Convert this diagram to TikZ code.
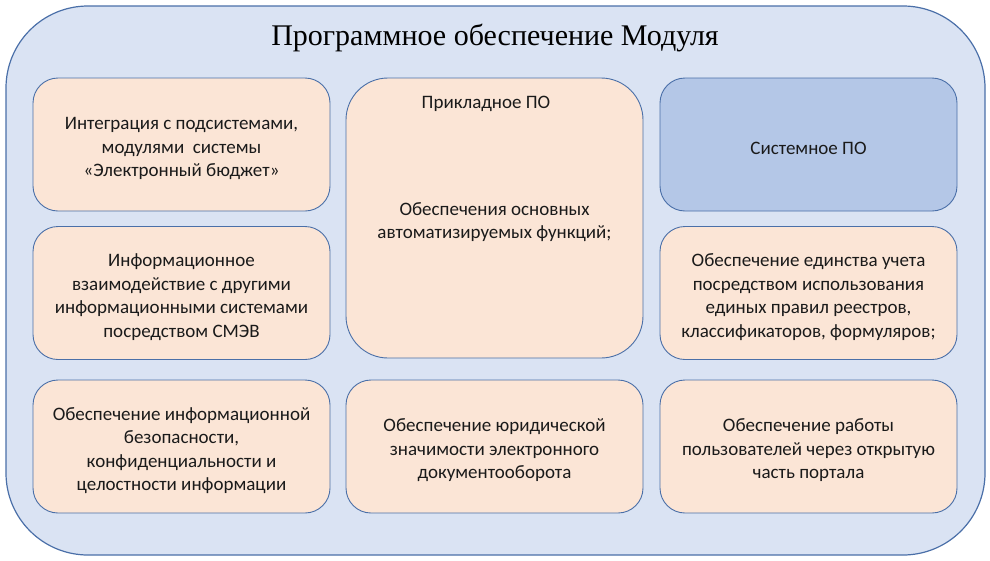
\documentclass[tikz,border=0pt]{standalone}
\usepackage{fontspec}
\setmainfont{Carlito}
\newfontfamily\titlefont{Liberation Serif}
\usetikzlibrary{positioning}

\definecolor{outerfill}{HTML}{DAE3F3}
\definecolor{edgeblue}{HTML}{4A6FA8}
\definecolor{peach}{HTML}{FBE5D6}
\definecolor{sysblue}{HTML}{B4C7E7}
\definecolor{inkgray}{HTML}{1A1A1A}

\begin{document}
\begin{tikzpicture}[x=1pt, y=-1pt, font=\fontsize{19}{23.5}\selectfont, text=inkgray,
    card/.style={draw=edgeblue, line width=0.9pt, fill=peach, rounded corners=25pt,
                 minimum width=297pt, minimum height=133pt, inner sep=0pt},
    syscard/.style={card, fill=sysblue},
    tallcard/.style={card, rounded corners=42pt, minimum height=280pt},
    cardtext/.style={align=center, inner sep=0pt, yshift=-4pt}]

\useasboundingbox (0,0) rectangle (990,560);

% ── Outer frame ──────────────────────────────────────────────
\node[draw=edgeblue, line width=1.2pt, fill=outerfill, rounded corners=82pt,
      minimum width=979pt, minimum height=549pt] (frame) at (495.5,280.5) {};
\node[font=\titlefont\fontsize{30}{34}\selectfont, text=black] (title) at (495,38)
    {Программное обеспечение Модуля};

% ── Left column ──────────────────────────────────────────────
\node[card] (integ) at (181.5,144.5) {};
\node[cardtext] (integtxt) at (integ)
    {Интеграция с подсистемами,\\модулями\ \ системы\\«Электронный бюджет»};
\node[card] (smev) at (181.5,293) {};
\node[cardtext] (smevtxt) at (smev)
    {Информационное\\взаимодействие с другими\\информационными системами\\посредством СМЭВ};
\node[card] (secur) at (181.5,446.5) {};
\node[cardtext] (securtxt) at (secur)
    {Обеспечение информационной\\безопасности,\\конфиденциальности и\\целостности информации};

% ── Middle column ────────────────────────────────────────────
\node[tallcard] (prikl) at (494.5,218) {};
\node[cardtext] (prikltxt) at (prikl)
    {Обеспечения основных\\автоматизируемых функций;};
\node (prikltitle) at (486,104) {Прикладное ПО};
\node[card] (legal) at (494.5,446.5) {};
\node[cardtext] (legaltxt) at (legal)
    {Обеспечение юридической\\значимости электронного\\документооборота};

% ── Right column ─────────────────────────────────────────────
\node[syscard] (sys) at (808.5,144.5) {};
\node[cardtext] (systxt) at (sys) {Системное ПО};
\node[card] (unity) at (808.5,293) {};
\node[cardtext] (unitytxt) at (unity)
    {Обеспечение единства учета\\посредством использования\\единых правил реестров,\\классификаторов, формуляров;};
\node[card] (portal) at (808.5,446.5) {};
\node[cardtext] (portaltxt) at (portal)
    {Обеспечение работы\\пользователей через открытую\\часть портала};

\end{tikzpicture}
\end{document}
